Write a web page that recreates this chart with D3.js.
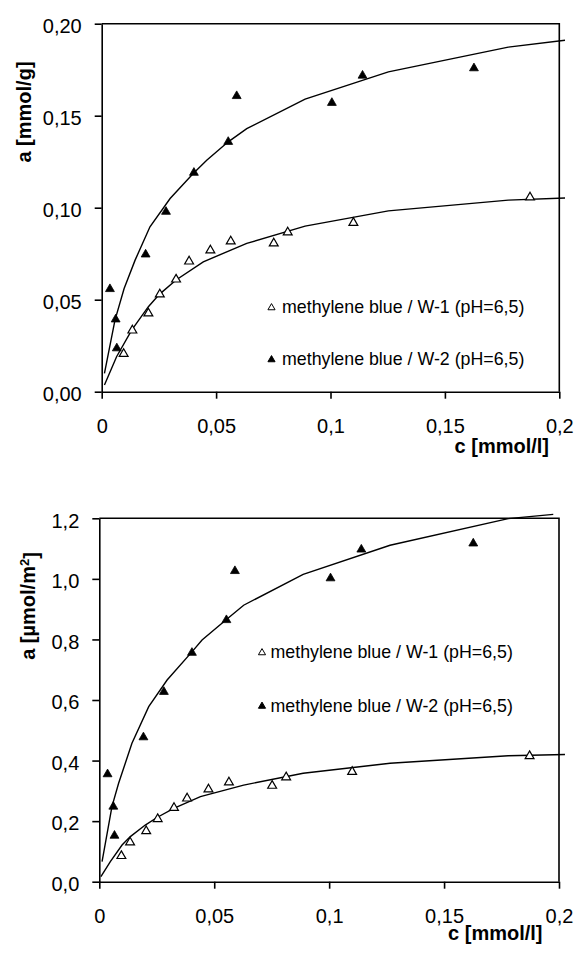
<!DOCTYPE html>
<html>
<head>
<meta charset="utf-8">
<script src="https://cdn.jsdelivr.net/npm/d3@7"></script>
<style>
  body { margin: 0; background: #fff; }
  svg { display: block; font-family: "Liberation Sans", Arial, Helvetica, sans-serif; }
</style>
</head>
<body>
<div id="chart"></div>
<script>
// Values (c in mmol/l)
const xTicks = [0, 0.05, 0.1, 0.15, 0.2];
const yTicksTop = [0, 0.05, 0.1, 0.15, 0.2];
const yTicksBottom = [0, 0.2, 0.4, 0.6, 0.8, 1.0, 1.2];
const legendLabels = ["methylene blue / W-1 (pH=6,5)", "methylene blue / W-2 (pH=6,5)"];

// measured points
const cW1 = [0.0096, 0.0134, 0.0204, 0.0254, 0.0325, 0.0382, 0.0475, 0.0564, 0.0752, 0.0813, 0.1100, 0.1872];
const cW2 = [0.0036, 0.0061, 0.0066, 0.0192, 0.0281, 0.0403, 0.0553, 0.0590, 0.1006, 0.1140, 0.1627];
const aW1Top = [0.0206, 0.0333, 0.0426, 0.0529, 0.0610, 0.0708, 0.0768, 0.0817, 0.0806, 0.0866, 0.0918, 0.1056];
const aW2Top = [0.0558, 0.0393, 0.0236, 0.0746, 0.0978, 0.1190, 0.1358, 0.1607, 0.1570, 0.1718, 0.1758];
const aW1Bottom = [0.085, 0.130, 0.167, 0.207, 0.244, 0.275, 0.305, 0.328, 0.317, 0.345, 0.363, 0.415];
const aW2Bottom = [0.355, 0.248, 0.152, 0.477, 0.627, 0.756, 0.864, 1.026, 1.002, 1.097, 1.117];

// fitted isotherm curves (polyline vertices)
const fitW1TopC = [0.0012, 0.0065, 0.0131, 0.0204, 0.0252, 0.0325, 0.0444, 0.0634, 0.0889, 0.1253, 0.1777, 0.2025];
const fitW1TopA = [0.0036, 0.0190, 0.0335, 0.0462, 0.0529, 0.0607, 0.0706, 0.0806, 0.0900, 0.0983, 0.1041, 0.1053];
const fitW2TopC = [0.0012, 0.0058, 0.0098, 0.0146, 0.0211, 0.0299, 0.0400, 0.0459, 0.0553, 0.0634, 0.0889, 0.1253, 0.1777, 0.2025];
const fitW2TopA = [0.0100, 0.0389, 0.0561, 0.0715, 0.0896, 0.1050, 0.1186, 0.1258, 0.1358, 0.1430, 0.1590, 0.1738, 0.1873, 0.1910];
const fitW1BottomC = [0.0007, 0.0048, 0.0099, 0.0135, 0.0200, 0.0251, 0.0324, 0.0440, 0.0628, 0.0887, 0.1265, 0.1779, 0.2026];
const fitW1BottomA = [0.017, 0.066, 0.121, 0.149, 0.187, 0.212, 0.242, 0.281, 0.319, 0.358, 0.391, 0.416, 0.420];
const fitW2BottomC = [0.0012, 0.0055, 0.0084, 0.0142, 0.0215, 0.0295, 0.0403, 0.0447, 0.0553, 0.0628, 0.0887, 0.1265, 0.1779, 0.1975];
const fitW2BottomA = [0.066, 0.248, 0.325, 0.457, 0.578, 0.666, 0.759, 0.798, 0.866, 0.913, 1.015, 1.111, 1.199, 1.213];

const svg = d3.select("#chart").append("svg")
    .attr("width", 576)
    .attr("height", 954);

const commaNum = digits => d => (digits == null ? String(d) : d.toFixed(digits)).replace(".", ",");

function drawPanel(cfg) {
    const g = svg.append("g");
    const x = d3.scaleLinear().domain([0, 0.2]).range([cfg.left, cfg.right]);
    const y = d3.scaleLinear().domain([0, cfg.yMax]).range([cfg.bottom, cfg.top]);

    // top + right border of the plot box
    g.append("path")
        .attr("d", `M${cfg.left},${cfg.top}H${cfg.right}V${cfg.bottom}`)
        .attr("fill", "none")
        .attr("stroke", "#000")
        .attr("stroke-width", 1.6);

    const xAxis = g.append("g")
        .attr("transform", `translate(0,${cfg.bottom})`)
        .call(d3.axisBottom(x).tickValues(xTicks).tickSize(7).tickSizeOuter(0).tickFormat(commaNum(null)));
    xAxis.selectAll("text").attr("y", 41).attr("dy", null);

    const yAxis = g.append("g")
        .attr("transform", `translate(${cfg.left},0)`)
        .call(d3.axisLeft(y).tickValues(cfg.yTicks).tickSize(7).tickSizeOuter(0).tickPadding(13).tickFormat(commaNum(cfg.yDigits)));
    yAxis.selectAll("text").attr("dy", "0.44em");

    [xAxis, yAxis].forEach(ax => {
        ax.attr("font-size", 20).attr("font-family", null);
        ax.selectAll("path, line").attr("stroke", "#000").attr("stroke-width", 1.6);
        ax.selectAll("text").attr("fill", "#000");
    });

    // fitted curves
    const line = d3.line().x(d => x(d[0])).y(d => y(d[1]));
    cfg.fits.forEach(f => {
        g.append("path")
            .datum(d3.zip(f[0], f[1]))
            .attr("d", line)
            .attr("fill", "none")
            .attr("stroke", "#000")
            .attr("stroke-width", 1.4);
    });

    // measured points: open = W-1, filled = W-2
    const tri = d3.symbol().type(d3.symbolTriangle);
    cfg.series.forEach(s => {
        g.selectAll(null)
            .data(d3.zip(s.c, s.a))
            .enter()
            .append("path")
            .attr("d", tri.size(34)())
            .attr("transform", d => `translate(${x(d[0])},${y(d[1])})`)
            .attr("fill", s.open ? "#fff" : "#000")
            .attr("stroke", "#000")
            .attr("stroke-width", s.open ? 1.2 : 0.8);
    });

    // legend
    cfg.legendY.forEach((ly, i) => {
        g.append("path")
            .attr("d", tri.size(22)())
            .attr("transform", `translate(${cfg.legendX},${ly})`)
            .attr("fill", i === 0 ? "#fff" : "#000")
            .attr("stroke", "#000")
            .attr("stroke-width", 1);
        g.append("text")
            .attr("x", cfg.legendTextX)
            .attr("y", ly + 5.5)
            .attr("font-size", 17.8)
            .text(legendLabels[i]);
    });

    // axis titles
    g.append("text")
        .attr("x", cfg.xTitleX)
        .attr("y", cfg.xTitleY)
        .attr("text-anchor", "end")
        .attr("font-size", 20)
        .attr("font-weight", "bold")
        .text("c [mmol/l]");

    const yt = g.append("text")
        .attr("transform", `translate(${cfg.yTitleX},${cfg.yTitleY}) rotate(-90)`)
        .attr("text-anchor", "middle")
        .attr("dy", "0.35em")
        .attr("font-size", 20)
        .attr("font-weight", "bold");
    cfg.yTitle(yt);
}

drawPanel({
    left: 101.7, right: 559.3, top: 23.7, bottom: 391.7,
    yMax: 0.2, yTicks: yTicksTop, yDigits: 2,
    fits: [[fitW1TopC, fitW1TopA], [fitW2TopC, fitW2TopA]],
    series: [{ c: cW1, a: aW1Top, open: true }, { c: cW2, a: aW2Top, open: false }],
    legendX: 271.5, legendTextX: 282, legendY: [307.7, 359.7],
    xTitleX: 549, xTitleY: 453,
    yTitleX: 24, yTitleY: 112,
    yTitle: t => t.text("a [mmol/g]")
});

drawPanel({
    left: 99.3, right: 559, top: 518.3, bottom: 881.7,
    yMax: 1.2, yTicks: yTicksBottom, yDigits: 1,
    fits: [[fitW1BottomC, fitW1BottomA], [fitW2BottomC, fitW2BottomA]],
    series: [{ c: cW1, a: aW1Bottom, open: true }, { c: cW2, a: aW2Bottom, open: false }],
    legendX: 262, legendTextX: 270.5, legendY: [652.7, 706.2],
    xTitleX: 542.5, xTitleY: 940,
    yTitleX: 28, yTitleY: 606,
    yTitle: t => {
        t.append("tspan").text("a [\u00b5mol/m");
        t.append("tspan").attr("dy", "-0.45em").attr("font-size", 13).text("2");
        t.append("tspan").attr("dy", "0.45em").text("]");
    }
});
</script>
</body>
</html>
